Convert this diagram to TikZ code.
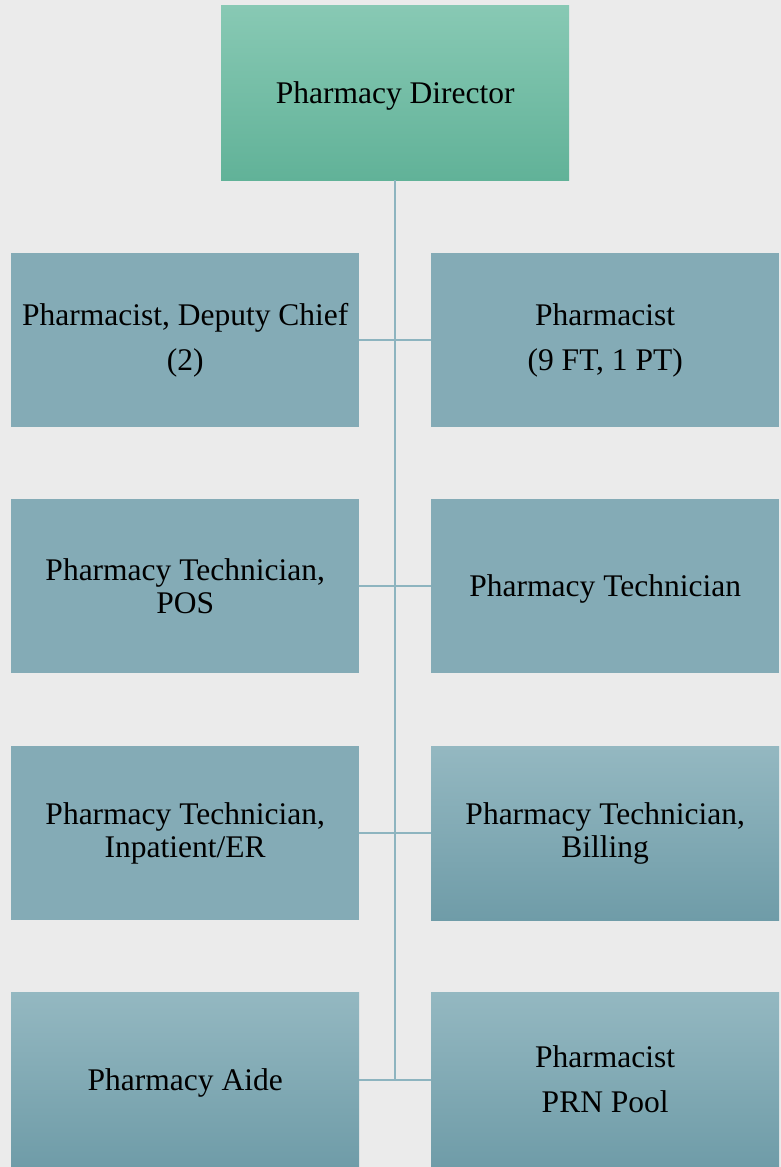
\documentclass[tikz,border=0pt]{standalone}
\usepackage{fontspec}
\setmainfont{Liberation Serif}
\definecolor{bg}{HTML}{EBEBEB}
\definecolor{boxflat}{HTML}{84ABB6}
\definecolor{boxtop}{HTML}{94B8C1}
\definecolor{boxbot}{HTML}{6F9CA8}
\definecolor{dirtop}{HTML}{88C9B4}
\definecolor{dirbot}{HTML}{61B298}
\definecolor{conn}{HTML}{8DB4BF}
\newcommand{\lowtext}[1]{\raisebox{-3pt}[\height][\depth]{#1}}
\begin{document}
\begin{tikzpicture}[x=1pt,y=-1pt,
  orgbox/.style={rectangle, inner sep=0pt, minimum width=348pt, minimum height=174pt,
     anchor=north west, align=center, font=\fontsize{31.5}{33}\selectfont},
  flatbox/.style={orgbox, fill=boxflat},
  gradbox/.style={orgbox, top color=boxtop, bottom color=boxbot},
  dirbox/.style={orgbox, minimum height=175pt, top color=dirtop, bottom color=dirbot},
  link/.style={draw=conn, line width=1.6pt}]
\fill[bg] (0,0) rectangle (781,1167);
\useasboundingbox (0,0) rectangle (781,1167);
\node[dirbox] (dir) at (221,5) {\lowtext{Pharmacy Director}};
\node[flatbox] (l1) at (11,253) {Pharmacist, Deputy Chief\\[12pt](2)};
\node[flatbox] (r1) at (431,253) {Pharmacist\\[12pt](9 FT, 1 PT)};
\node[flatbox] (l2) at (11,499) {Pharmacy Technician,\\POS};
\node[flatbox] (r2) at (431,499) {\lowtext{Pharmacy Technician}};
\node[flatbox] (l3) at (11,746) {Pharmacy Technician,\\Inpatient/ER};
\node[gradbox] (r3) at (431,746) {Pharmacy Technician,\\Billing};
\node[gradbox, minimum height=175pt] (l4) at (11,992) {\lowtext{Pharmacy Aide}};
\node[gradbox, minimum height=175pt] (r4) at (431,992) {Pharmacist\\[12pt]PRN Pool};
\coordinate (trunkend) at (dir.south |- r4.west);
\draw[link] (dir.south) -- (trunkend);
\draw[link] (l1.east) -- (r1.west);
\draw[link] (l2.east) -- (r2.west);
\draw[link] (l3.east) -- (r3.west);
\draw[link] (l4.east) -- (r4.west);
\end{tikzpicture}
\end{document}
